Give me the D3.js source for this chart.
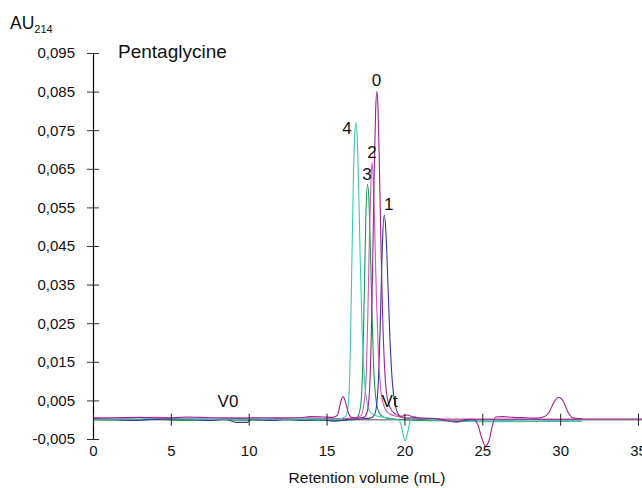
<!DOCTYPE html>
<html>
<head>
<meta charset="utf-8">
<script src="https://cdn.jsdelivr.net/npm/d3@7"></script>
<style>
  html, body { margin: 0; padding: 0; background: #fff; }
  svg { display: block; font-family: "Liberation Sans", Arial, Helvetica, sans-serif; }
</style>
</head>
<body>
<svg id="chart" width="642" height="488"></svg>
<script>
// ---- data ----
const xTicks = [0, 5, 10, 15, 20, 25, 30, 35];
const yTicks = [-0.005, 0.005, 0.015, 0.025, 0.035, 0.045, 0.055, 0.065, 0.075, 0.085, 0.095];
const seriesNames = ["0", "1", "2", "3", "4"];
const seriesColors = ["#a3208c", "#35379c", "#d257b4", "#179a52", "#3ec9b6"];

// [retention volume (mL), absorbance]
const trace0 = [
  [0,0.0004],[1.5,0.0005],[3,0.0006],[4.5,0.0004],[6,0.0007],[7.5,0.0005],[9,0.0004],[10.5,0.0005],
  [12,0.0004],[13.2,0.0005],[14,0.0008],[14.8,0.0007],[15.4,0.0006],[15.7,0.0012],[15.9,0.0045],
  [16.05,0.006],[16.2,0.0048],[16.4,0.0018],[16.6,0.0006],[17,0.0004],[17.4,0.0006],[17.6,0.002],
  [17.75,0.007],[17.85,0.018],[17.95,0.038],[18.05,0.062],[18.15,0.08],[18.23,0.085],[18.31,0.08],
  [18.4,0.064],[18.5,0.044],[18.6,0.027],[18.72,0.014],[18.88,0.006],[19.1,0.003],[19.4,0.0015],
  [19.8,0.0009],[20.2,0.0012],[20.6,0.0006],[21.2,0.0004],[22,0.0003],[22.6,-0.0002],[23,-0.0004],
  [23.5,-0.0005],[24,0.0001],[24.4,0.0001],[24.7,-0.0012],[24.95,-0.0045],[25.2,-0.0068],
  [25.45,-0.0052],[25.65,-0.0015],[25.85,0.0007],[26.3,0.0008],[27,0.0006],[27.8,0.0005],[28.5,0.0004],
  [29,0.0008],[29.3,0.002],[29.6,0.0045],[29.9,0.0058],[30.2,0.0048],[30.5,0.002],[30.8,0.0005],
  [31.5,0.0002],[33,0.0002],[35.5,0.0002]
];
const trace1 = [
  [0,0.0003],[1,0.0002],[2.5,-0.0002],[4,0.0001],[5.5,0.0002],[6.5,0.0001],[7.5,-0.0002],[8.5,0.0001],
  [9.2,-0.0007],[9.9,-0.0007],[10.2,0.0001],[11.5,-0.0002],[12.5,0.0001],[13.5,-0.0001],[14.5,0.0001],
  [15.5,-0.0004],[16.5,0.0001],[17.2,0.0002],[17.8,0.0004],[18.1,0.0015],[18.3,0.008],[18.45,0.025],
  [18.58,0.045],[18.7,0.053],[18.82,0.048],[18.95,0.034],[19.08,0.02],[19.22,0.01],[19.4,0.004],
  [19.6,0.0015],[19.9,0.0005],[20.4,0.0004],[21,0.0002],[22,0.0001],[22.8,-0.0002],[23.3,-0.0006],
  [23.8,-0.0003],[25,0.0001],[26.5,0.0],[28,0.0001],[29.5,0.0],[31.4,0.0001]
];
const trace2 = [
  [0,0.0005],[2,0.0004],[4,0.0006],[6,0.0004],[8,0.0005],[10,0.0004],[12,0.0005],[14,0.0004],
  [15,0.0003],[16,0.0003],[16.8,0.0004],[17.2,0.001],[17.4,0.004],[17.55,0.012],[17.65,0.027],
  [17.75,0.047],[17.85,0.062],[17.92,0.0667],[18.0,0.062],[18.1,0.048],[18.2,0.032],[18.32,0.018],
  [18.45,0.009],[18.65,0.004],[18.9,0.002],[19.2,0.0012],[19.6,0.0008],[20.1,0.0004],[21,0.0003],
  [23,0.0002],[25,0.0002],[27,0.0002],[29,0.0002],[31.4,0.0002]
];
const trace3 = [
  [0,0.0],[2,-0.0001],[4,0.0001],[6,-0.0002],[8,0.0],[10,-0.0001],[12,0.0],[14,-0.0002],[16,-0.0002],
  [16.7,0.0],[17.0,0.0008],[17.2,0.004],[17.32,0.014],[17.42,0.032],[17.52,0.052],[17.62,0.061],
  [17.72,0.057],[17.82,0.043],[17.92,0.027],[18.02,0.014],[18.15,0.006],[18.35,0.002],[18.6,0.0008],
  [19,0.0003],[20,0.0],[21,-0.0002],[23,-0.0003],[25,-0.0004],[27,-0.0004],[29,-0.0004],[31.4,-0.0004]
];
const trace4 = [
  [0,0.0002],[2,0.0001],[4,0.0003],[6,0.0002],[8,0.0001],[10,0.0002],[12,0.0001],[14,0.0002],
  [15,0.0001],[15.8,0.0002],[16.2,0.0008],[16.4,0.004],[16.5,0.014],[16.6,0.035],[16.7,0.058],
  [16.8,0.073],[16.88,0.077],[16.97,0.073],[17.07,0.058],[17.17,0.04],[17.28,0.024],[17.42,0.011],
  [17.58,0.005],[17.8,0.002],[18.2,0.001],[18.7,0.0006],[19.2,0.0003],[19.6,0.0],[19.8,-0.0015],
  [19.95,-0.0045],[20.05,-0.0055],[20.2,-0.0035],[20.35,-0.0005],[20.6,0.0008],[21,0.0004],
  [22,0.0],[23,-0.0003],[25,-0.0005],[27,-0.0005],[29,-0.0004],[31.4,-0.0004]
];
const traces = [trace0, trace1, trace2, trace3, trace4];
// peak label anchor points (value coordinates, text baseline)
const peakLabelPos = [[18.2, 0.0864], [19.0, 0.0543], [17.92, 0.0678], [17.6, 0.0621], [16.31, 0.074]];
const markerLabels = [{text: "V0", x: 8.67, y: 0.0033}, {text: "Vt", x: 19.05, y: 0.0033}];

// ---- layout ----
const svg = d3.select("#chart");
const x = d3.scaleLinear().domain([0, 35]).range([93, 638]);
const y = d3.scaleLinear().domain([-0.005, 0.095]).range([439, 53]);
const fmt = v => d3.format(".3f")(v).replace(".", ",").replace("\u2212", "-");

// y axis
const yAxis = d3.axisLeft(y).tickValues(yTicks).tickSize(0).tickFormat(fmt).tickPadding(18);
const gy = svg.append("g").attr("transform", `translate(${x(0)},0)`).call(yAxis);
gy.select(".domain").attr("stroke", "#000").attr("stroke-width", 1.2);
gy.selectAll(".tick text").attr("font-size", 15).attr("fill", "#111");
gy.selectAll(".tick").append("line").attr("x1", -6).attr("x2", 6).attr("stroke", "#333").attr("stroke-width", 1);

// x axis (baseline at 0)
const xAxis = d3.axisBottom(x).tickValues(xTicks).tickSize(0).tickFormat(d3.format("d"));
const gx = svg.append("g").attr("transform", `translate(0,${y(0)})`).call(xAxis);
gx.select(".domain").remove();
gx.selectAll(".tick text").attr("font-size", 15).attr("fill", "#111").attr("dy", 0).attr("y", 36);

// traces
const line = d3.line().x(d => x(d[0])).y(d => y(d[1])).curve(d3.curveMonotoneX);
svg.append("defs").append("clipPath").attr("id", "clip")
  .append("rect").attr("x", 93).attr("y", 0).attr("width", 549).attr("height", 488);
const gLines = svg.append("g").attr("clip-path", "url(#clip)");
gLines.append("line").attr("x1", x(0)).attr("x2", 642).attr("y1", y(0)).attr("y2", y(0))
  .attr("stroke", "#8a8a8a").attr("stroke-width", 1.6);
[3, 1, 2, 4, 0].forEach(i => {
  gLines.append("path").datum(traces[i]).attr("d", line)
    .attr("fill", "none").attr("stroke", seriesColors[i]).attr("stroke-width", 1.1);
});
gx.raise();
gx.selectAll(".tick").append("line").attr("y1", -6).attr("y2", 6).attr("stroke", "#222").attr("stroke-width", 1);

// labels
svg.selectAll("text.peak").data(seriesNames).join("text").attr("class", "peak")
  .attr("x", (d, i) => x(peakLabelPos[i][0])).attr("y", (d, i) => y(peakLabelPos[i][1]))
  .attr("text-anchor", "middle").attr("font-size", 17).attr("fill", "#111").text(d => d);
svg.selectAll("text.mark").data(markerLabels).join("text").attr("class", "mark")
  .attr("x", d => x(d.x)).attr("y", d => y(d.y)).attr("text-anchor", "middle")
  .attr("font-size", 17).attr("fill", "#111").text(d => d.text);

svg.append("text").attr("x", 118).attr("y", 58).attr("font-size", 19).attr("fill", "#111").text("Pentaglycine");
const au = svg.append("text").attr("x", 10).attr("y", 29).attr("font-size", 17.5).attr("fill", "#111");
au.append("tspan").text("AU");
au.append("tspan").attr("font-size", 11).attr("dy", 4).text("214");
svg.append("text").attr("x", 367).attr("y", 483).attr("text-anchor", "middle").attr("font-size", 15.5)
  .attr("fill", "#111").text("Retention volume (mL)");
</script>
</body>
</html>
